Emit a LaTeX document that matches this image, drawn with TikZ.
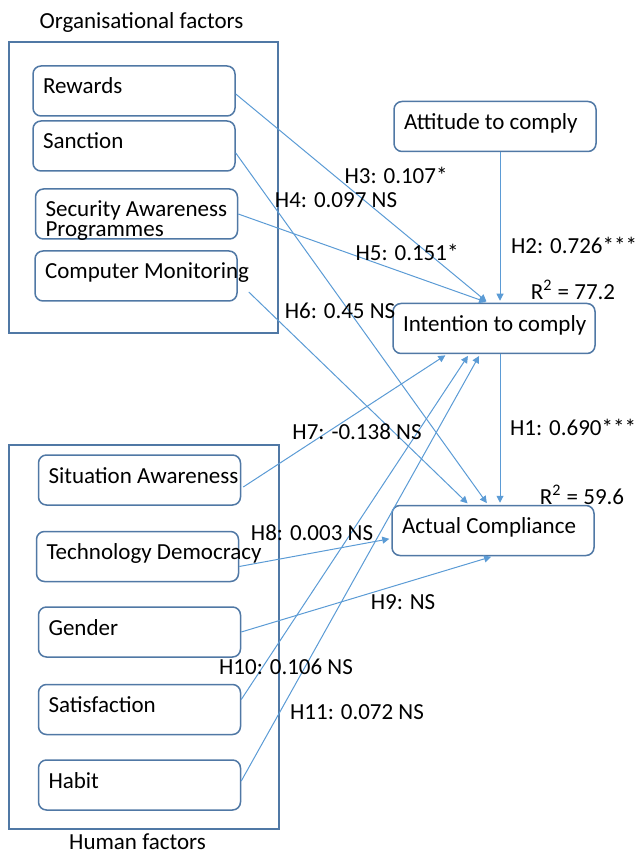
\documentclass[tikz,border=0pt]{standalone}
\usepackage{fontspec}
\setmainfont{Carlito}
\usepackage{tikz}
\usetikzlibrary{
    arrows.meta,
    positioning,
}
\definecolor{boxblue}{RGB}{80,120,165}
\definecolor{lineblue}{RGB}{91,155,213}
\newcommand{\boxtext}[1]{\makebox[91pt][l]{#1}}
\tikzset{
    frame/.style = {
        rectangle,
        inner sep=0pt,
        line width=0.75pt,
        draw=boxblue,
    },
    factor/.style = {
        rectangle,
        rounded corners=4pt,
        minimum width=101pt,
        minimum height=25pt,
        text height=9.5pt,
        text depth=6.5pt,
        inner xsep=5pt,
        line width=0.75pt,
        draw=boxblue,
    },
    hyp/.style = {
        inner sep=0pt,
    },
}
\tikzstyle{arrow} = [
    lineblue,
    line width=0.5pt,
    shorten >=1pt,
    -{Triangle[length=3.5pt,width=3.5pt]}
]

\begin{document}
\begin{tikzpicture}[x=0.5pt,y=-0.5pt]
        \tikzstyle{every node}=[font=\fontsize{11.5}{14}\selectfont]
        \useasboundingbox (0,0) rectangle (638,854);

        % organisational factors
        \node [frame, minimum width=134.5pt, minimum height=145.5pt] (orgframe) at (143.5,187.5) {};
        \node [anchor=base] (orgtitle) at (141.5,29) {Organisational factors};

        \node [factor] (rewards) at (134,91)
        {\boxtext{Rewards}};

        \node [factor] (sanction) at (134,146)
        {\boxtext{Sanction}};

        \node [factor] (secaware) at (136.5,214)
        {\boxtext{\vtop{\baselineskip=10pt\hbox{Security Awareness}\hbox{Programmes}}}};

        \node [factor] (compmon) at (136,276)
        {\boxtext{Computer Monitoring}};

        % human factors
        \node [frame, minimum width=135pt, minimum height=192pt] (humanframe) at (144,637) {};
        \node [anchor=base] (humantitle) at (137.5,849) {Human factors};

        \node [factor] (sitaware) at (139.5,480)
        {\boxtext{Situation Awareness}};

        \node [factor, below = 12.5pt of sitaware, xshift=-1pt] (techdem)
        {\boxtext{Technology Democracy}};

        \node [factor, below = 12pt of techdem, xshift=1pt] (gender)
        {\boxtext{Gender}};

        \node [factor, below = 13pt of gender] (satisf)
        {\boxtext{Satisfaction}};

        \node [factor, below = 12pt of satisf] (habit)
        {\boxtext{Habit}};

        % outcomes
        \node [factor] (attitude) at (495,126.5)
        {\boxtext{Attitude to comply}};

        \node [factor] (intention) at (494,328.5)
        {\boxtext{Intention to comply}};

        \node [factor] (actual) at (493,530.5)
        {\boxtext{Actual Compliance}};

        % paths
        \draw [arrow] ([yshift=-1.5pt]rewards.east) -- ([xshift=-3pt]intention.north);
        \draw [arrow] ([yshift=-3.5pt]sanction.east) -- ([xshift=-2.5pt]actual.north);
        \draw [arrow] (secaware.east) -- ([xshift=-3pt]intention.north);
        \draw [arrow] ([xshift=5.5pt,yshift=-8pt]compmon.east) -- ([xshift=-12pt]actual.north);
        \draw [arrow] ([xshift=2.5pt]attitude.south) -- ([xshift=2.5pt]attitude.south |- intention.north);
        \draw [arrow] ([xshift=3pt]intention.south) -- ([xshift=3pt]intention.south |- actual.north);
        \draw [arrow] ([xshift=1pt,yshift=-3.5pt]sitaware.east) -- ([xshift=-23.5pt]intention.south);
        \draw [arrow] ([yshift=-5pt]techdem.east) -- ([yshift=-4pt]actual.west);
        \draw [arrow] (gender.east) -- (actual.south);
        \draw [arrow] ([yshift=5pt]satisf.east) -- ([xshift=-12.5pt]intention.south);
        \draw [arrow] ([yshift=2pt]habit.east) -- ([xshift=-7pt]intention.south);

        % coefficients
        \node [hyp] (h3lab) at (396,175) {H3: 0.107*};
        \node [hyp] (h4lab) at (336,200) {H4: 0.097 NS};
        \node [hyp] (h5lab) at (407,252) {H5: 0.151*};
        \node [hyp] (h6lab) at (340,311) {H6: 0.45 NS};
        \node [hyp] (h2lab) at (574,245) {H2: 0.726***};
        \node [hyp] (r2int) at (573,290) {R\textsuperscript{2} = 77.2};
        \node [hyp] (h7lab) at (357,432) {H7: -0.138 NS};
        \node [hyp] (h1lab) at (573,427) {H1: 0.690***};
        \node [hyp] (r2act) at (582,495) {R\textsuperscript{2} = 59.6};
        \node [hyp] (h8lab) at (312,533) {H8: 0.003 NS};
        \node [hyp] (h9lab) at (403,602) {H9: NS};
        \node [hyp] (h10lab) at (286,667) {H10: 0.106 NS};
        \node [hyp] (h11lab) at (357,712) {H11: 0.072 NS};

    \end{tikzpicture}
\end{document}
